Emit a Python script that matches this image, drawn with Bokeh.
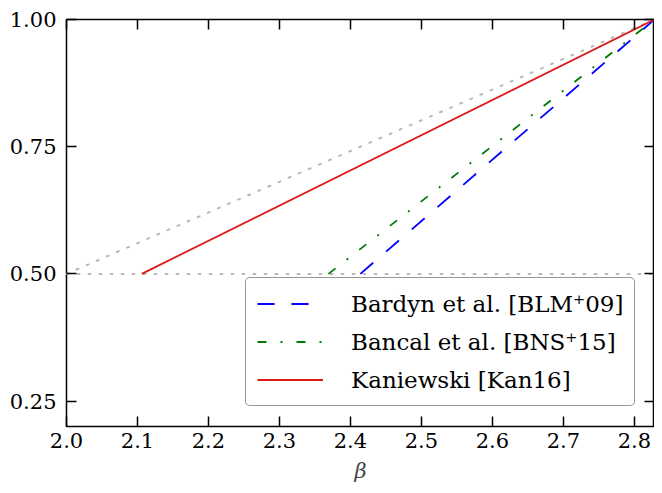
import numpy as np
from bokeh.plotting import figure
from bokeh.models import LinearAxis, Range1d, Legend, LegendItem, FixedTicker
from bokeh.embed import file_html
from bokeh.resources import INLINE

# ---- data ----
beta_min = 2.0
beta_max = 2.8284  # 2*sqrt(2)
guide_diag_x = [2.0, beta_max]
guide_diag_y = [0.5, 1.0]
guide_flat_x = [2.0, beta_max]
guide_flat_y = [0.5, 0.5]
bardyn_x = [2.414, beta_max]
bardyn_y = [0.5, 1.0]
bancal_x = [2.369, beta_max]
bancal_y = [0.5, 1.0]
kaniewski_x = [2.106, beta_max]
kaniewski_y = [0.5, 1.0]
x_ticks = [2.0, 2.1, 2.2, 2.3, 2.4, 2.5, 2.6, 2.7, 2.8]
x_tick_labels = ["2.0", "2.1", "2.2", "2.3", "2.4", "2.5", "2.6", "2.7", "2.8"]
y_ticks = [0.25, 0.5, 0.75, 1.0]
y_tick_labels = ["0.25", "0.50", "0.75", "1.00"]
series_labels = ["Bardyn et al. [BLM\u207a09]", "Bancal et al. [BNS\u207a15]", "Kaniewski [Kan16]"]

FONT = "DejaVu Serif"
TICK_FS = "21px"

p = figure(width=654, height=485, output_backend="svg", toolbar_location=None,
           x_range=Range1d(beta_min, beta_max), y_range=Range1d(0.2, 1.0),
           min_border_left=66, min_border_right=0, min_border_top=19, min_border_bottom=10)
p.grid.visible = False
p.outline_line_color = "black"
p.outline_line_width = 1.5
p.background_fill_color = "white"
p.border_fill_color = "white"

# guide lines
p.line(guide_diag_x, guide_diag_y, line_color="#b8b8b8", line_width=2, line_dash="2 9", line_cap="round")
p.line(guide_flat_x, guide_flat_y, line_color="#b8b8b8", line_width=2, line_dash="2 9", line_cap="round")

r_b = p.line(bardyn_x, bardyn_y, line_color="#0000ff", line_width=1.8, line_dash="17 17")
r_c = p.line(bancal_x, bancal_y, line_color="#007a00", line_width=1.8, line_dash="9 14 2 14")
r_k = p.line(kaniewski_x, kaniewski_y, line_color="#dd1a1a", line_width=1.8)

def style_axis(ax, show_labels, ticks):
    ax.axis_line_color = None
    ax.major_tick_in = 10
    ax.major_tick_out = 0
    ax.minor_tick_in = 0
    ax.minor_tick_out = 0
    ax.major_tick_line_color = "black"
    ax.major_tick_line_width = 1.5
    ax.major_label_text_font = FONT
    ax.major_label_text_color = "black"
    ax.major_label_text_font_size = TICK_FS
    if not show_labels:
        ax.major_label_overrides = {t: "" for t in ticks}
        ax.major_label_standoff = 0

xa = p.xaxis[0]
xa.ticker = FixedTicker(ticks=x_ticks)
style_axis(xa, True, x_ticks)
xa.major_label_overrides = dict(zip(x_ticks, x_tick_labels))
xa.major_label_standoff = 6
xa.axis_label = "β"
xa.axis_label_text_font = FONT
xa.axis_label_text_font_style = "italic"
xa.axis_label_text_font_size = TICK_FS
xa.axis_label_standoff = 8

ya = p.yaxis[0]
ya.ticker = FixedTicker(ticks=y_ticks)
style_axis(ya, True, y_ticks)
ya.major_label_overrides = dict(zip(y_ticks, y_tick_labels))
ya.major_label_standoff = 10

top = LinearAxis(ticker=FixedTicker(ticks=x_ticks))
style_axis(top, False, x_ticks)
p.add_layout(top, "above")
right = LinearAxis(ticker=FixedTicker(ticks=y_ticks))
style_axis(right, False, y_ticks)
p.add_layout(right, "right")

legend = Legend(items=[LegendItem(label=series_labels[0], renderers=[r_b]),
                       LegendItem(label=series_labels[1], renderers=[r_c]),
                       LegendItem(label=series_labels[2], renderers=[r_k])],
                location=(179, 20))
legend.label_text_font = FONT
legend.label_text_font_size = "23px"
legend.label_text_color = "black"
legend.glyph_width = 66
legend.glyph_height = 29
legend.label_height = 29
legend.label_standoff = 28
legend.spacing = 9
legend.padding = 11
legend.margin = 0
legend.border_line_color = "#333333"
legend.border_line_width = 1.5
legend.background_fill_alpha = 1.0
try:
    legend.border_radius = 5
except Exception:
    pass
p.add_layout(legend, "center")

open("out.html", "w").write(file_html(p, INLINE))
